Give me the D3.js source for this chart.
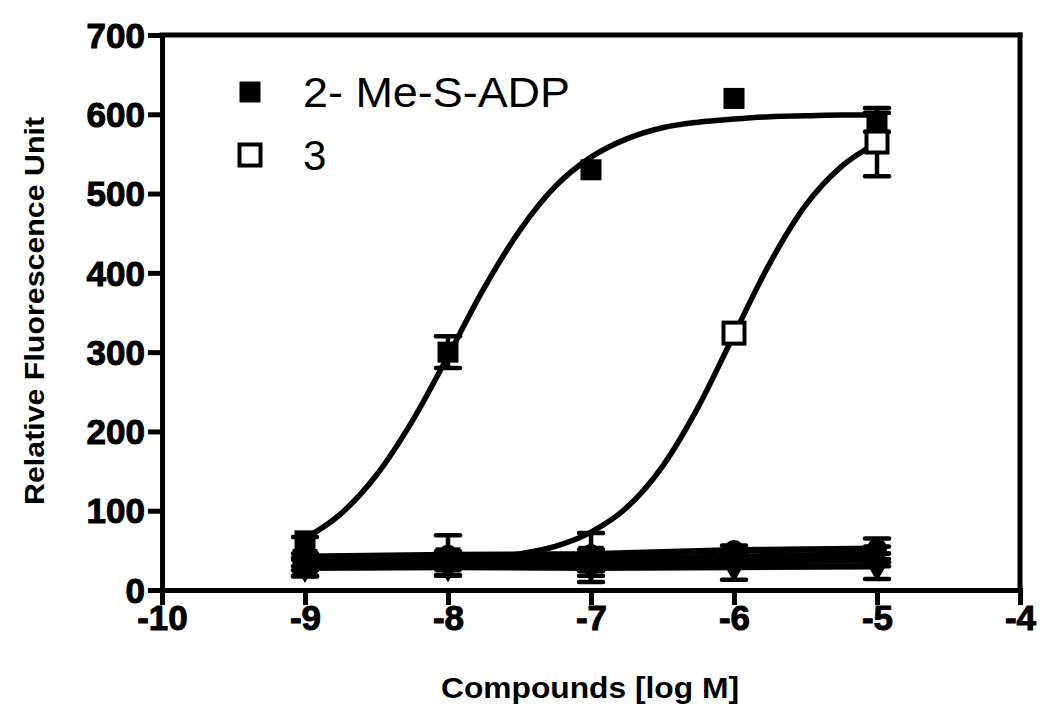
<!DOCTYPE html>
<html>
<head>
<meta charset="utf-8">
<script src="https://cdn.jsdelivr.net/npm/d3@7"></script>
<style>
  html, body { margin: 0; padding: 0; background: #fff; }
  svg { display: block; }
</style>
</head>
<body>
<svg id="chart" width="1050" height="713"></svg>
<script>
// ---------- data ----------
const xTicks = [-10, -9, -8, -7, -6, -5, -4];
const yTicks = [0, 100, 200, 300, 400, 500, 600, 700];
const doses = [-9, -8, -7, -6, -5];

// 2-Me-S-ADP (filled squares)
const meSADP = [62, 300, 530, 620, 590];
const meSADPErr = [0, 20, 0, 0, 12];
// compound 3 (open squares)
const cmpd3 = [36, 38, 40, 324, 565];
const cmpd3Err = [0, 0, 0, 0, 43];

// inactive compounds (flat)
const flatCircle = [42, 44, 45, 50, 52];
const flatCircleErr = [25, 25, 27, 6, 13];
const flatDiamond = [38, 39, 39, 42, 45];
const flatDiamondErr = [8, 10, 12, 8, 10];
const flatTriUp = [33, 34, 34, 36, 38];
const flatTriUpErr = [8, 8, 10, 8, 8];
const flatTriDown = [28, 29, 28, 29, 30];
const flatTriDownErr = [10, 11, 18, 16, 16];

// fitted curves
const curveX = [-9, -8.75, -8.5, -8.25, -8, -7.75, -7.5, -7.25, -7, -6.75, -6.5, -6.25, -6, -5.75, -5.5, -5.25, -5];
const curveMeS = [65, 96, 145, 213, 295, 380, 453, 509, 546, 569, 583, 590, 594, 597, 598, 599, 599];
const curveCmpd3 = [35, 35.5, 36, 37, 38, 40.5, 45.5, 55, 73, 104, 156, 231, 322, 412, 485, 534, 564];

const legendLabels = ["2- Me-S-ADP", "3"];

// ---------- layout ----------
const svg = d3.select("#chart");
const x = d3.scaleLinear().domain([-10, -4]).range([162, 1020]);
const y = d3.scaleLinear().domain([0, 700]).range([590, 35]);

const AX = 5;      // axis stroke width
const LW = 5.5;    // curve stroke width
const FONT = "'Liberation Sans', Arial, sans-serif";

// ---------- frame ----------
const frame = svg.append("g").attr("stroke", "#000").attr("stroke-width", AX).attr("stroke-linecap", "square");
frame.append("line").attr("x1", x(-10)).attr("x2", x(-4)).attr("y1", y(700)).attr("y2", y(700));
frame.append("line").attr("x1", x(-4)).attr("x2", x(-4)).attr("y1", y(700)).attr("y2", y(0));

// y axis
const yAxis = svg.append("g").attr("transform", `translate(${x(-10)},0)`)
  .call(d3.axisLeft(y).tickValues(yTicks).tickFormat(d => String(d))
    .tickSize(14).tickSizeOuter(0).tickPadding(3));
// x axis
const xAxis = svg.append("g").attr("transform", `translate(0,${y(0)})`)
  .call(d3.axisBottom(x).tickValues(xTicks).tickFormat(d => String(d))
    .tickSize(15).tickSizeOuter(0).tickPadding(0));

[yAxis, xAxis].forEach(g => {
  g.select(".domain").attr("stroke-width", AX).attr("stroke-linecap", "square");
  g.selectAll(".tick line").attr("stroke-width", AX).attr("stroke-linecap", "butt");
  g.selectAll("text")
    .attr("fill", "#000")
    .attr("stroke", "#000").attr("stroke-width", 1)
    .style("font-family", FONT)
    .style("font-weight", "bold");
});
yAxis.selectAll("text").attr("dy", "0.35em").style("font-size", "35px");
xAxis.selectAll("text").attr("dy", "0.7em").style("font-size", "35px");

// axis titles
svg.append("text")
  .attr("x", 590).attr("y", 698)
  .attr("text-anchor", "middle")
  .attr("textLength", 298).attr("lengthAdjust", "spacingAndGlyphs")
  .style("font-family", FONT)
  .style("font-weight", "bold").style("font-size", "29px")
  .text("Compounds [log M]");

svg.append("text")
  .attr("transform", "translate(44,311) rotate(-90)")
  .attr("text-anchor", "middle")
  .attr("textLength", 388).attr("lengthAdjust", "spacingAndGlyphs")
  .style("font-family", FONT)
  .style("font-weight", "bold").style("font-size", "28px")
  .text("Relative Fluorescence Unit");

// ---------- lines ----------
const line = d3.line().x(d => x(d[0])).y(d => y(d[1]));
const plot = svg.append("g");

const flats = [
  { v: flatCircle, e: flatCircleErr, sym: d3.symbolCircle, size: 330 },
  { v: flatDiamond, e: flatDiamondErr, sym: d3.symbolDiamond, size: 300 },
  { v: flatTriUp, e: flatTriUpErr, sym: d3.symbolTriangle, size: 300 },
  { v: flatTriDown, e: flatTriDownErr, sym: d3.symbolTriangle, size: 300, rot: 180 }
];

flats.forEach(s => {
  plot.append("path")
    .datum(doses.map((d, i) => [d, s.v[i]]))
    .attr("d", line)
    .attr("fill", "none").attr("stroke", "#000").attr("stroke-width", 6.5);
});

const smooth = d3.line().x(d => x(d[0])).y(d => y(d[1])).curve(d3.curveMonotoneX);
[curveMeS, curveCmpd3].forEach(c => {
  plot.append("path")
    .datum(curveX.map((d, i) => [d, c[i]]))
    .attr("d", smooth)
    .attr("fill", "none").attr("stroke", "#000").attr("stroke-width", LW)
    .attr("stroke-linecap", "round");
});

// ---------- error bars ----------
function errorBars(vals, errs) {
  const g = plot.append("g").attr("stroke", "#000").attr("stroke-width", 4.5);
  doses.forEach((d, i) => {
    if (!errs[i]) return;
    const cx = x(d), hi = y(vals[i] + errs[i]), lo = y(vals[i] - errs[i]);
    g.append("line").attr("x1", cx).attr("x2", cx).attr("y1", hi).attr("y2", lo);
    g.append("line").attr("x1", cx - 12).attr("x2", cx + 12).attr("y1", hi).attr("y2", hi).attr("stroke-linecap", "round");
    g.append("line").attr("x1", cx - 12).attr("x2", cx + 12).attr("y1", lo).attr("y2", lo).attr("stroke-linecap", "round");
  });
}
errorBars(meSADP, meSADPErr);
errorBars(cmpd3, cmpd3Err);
flats.forEach(s => errorBars(s.v, s.e));

// ---------- markers ----------
plot.append("g").selectAll("rect").data(doses).join("rect")
  .attr("x", d => x(d) - 10.5).attr("y", (d, i) => y(cmpd3[i]) - 10.5)
  .attr("width", 21).attr("height", 21)
  .attr("fill", "#fff").attr("stroke", "#000").attr("stroke-width", 4);

flats.forEach(s => {
  plot.append("g").selectAll("path").data(doses).join("path")
    .attr("transform", (d, i) => `translate(${x(d)},${y(s.v[i])}) rotate(${s.rot || 0})`)
    .attr("d", d3.symbol().type(s.sym).size(s.size))
    .attr("fill", "#000");
});

plot.append("g").selectAll("rect").data(doses).join("rect")
  .attr("x", d => x(d) - 10.5).attr("y", (d, i) => y(meSADP[i]) - 10.5)
  .attr("width", 21).attr("height", 21).attr("fill", "#000");

// ---------- legend ----------
const legend = svg.append("g");
legend.append("rect").attr("x", 239.5).attr("y", 81.5).attr("width", 21).attr("height", 21).attr("fill", "#000");
legend.append("rect").attr("x", 239.5).attr("y", 144.5).attr("width", 21).attr("height", 21)
  .attr("fill", "#fff").attr("stroke", "#000").attr("stroke-width", 4);
legend.selectAll("text.lab").data(legendLabels).join("text")
  .attr("class", "lab")
  .attr("x", 303).attr("y", (d, i) => 107 + i * 63)
  .style("font-family", FONT)
  .style("font-size", "42px")
  .each(function (d) { if (d.length > 2) d3.select(this).attr("textLength", 267).attr("lengthAdjust", "spacingAndGlyphs"); })
  .text(d => d);
</script>
</body>
</html>
